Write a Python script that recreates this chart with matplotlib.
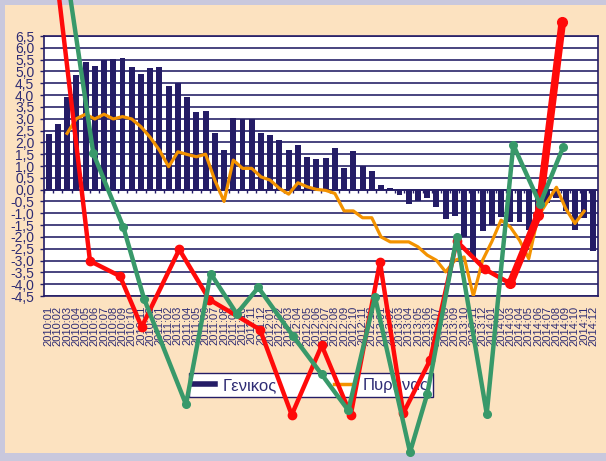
import numpy as np
import matplotlib
matplotlib.use("Agg")
import matplotlib.pyplot as plt
from matplotlib.lines import Line2D
from matplotlib.patches import Rectangle

plt.rcParams['font.family'] = ['Liberation Sans', 'DejaVu Sans']

# ---- data -------------------------------------------------------------
months = [f"{y}:{m:02d}" for y in range(2010, 2015) for m in range(1, 13)]

general = [2.35, 2.78, 3.90, 4.85, 5.40, 5.23, 5.47, 5.53, 5.57, 5.19,
           4.89, 5.15, 5.19, 4.38, 4.53, 3.93, 3.28, 3.34, 2.39, 1.67,
           3.03, 2.99, 2.97, 2.39, 2.31, 2.10, 1.67, 1.88, 1.38, 1.29,
           1.33, 1.75, 0.91, 1.63, 0.99, 0.78, 0.19, 0.07, -0.23, -0.59,
           -0.47, -0.37, -0.73, -1.26, -1.12, -2.00, -2.85, -1.74, -1.50, -1.15,
           -1.36, -1.36, -1.70, -1.00, -0.58, -0.37, -0.90, -1.69, -1.22, -2.61]

nan = np.nan
core = [nan, nan, 2.38, 3.00, 3.19, 2.99, 3.19, 2.99, 3.09, 2.99,
        2.66, 2.21, 1.67, 0.97, 1.60, 1.49, 1.39, 1.50, 0.40, -0.50,
        1.25, 0.90, 0.90, 0.54, 0.40, 0.05, -0.19, 0.29, 0.12, 0.01,
        -0.03, -0.16, -0.90, -0.90, -1.19, -1.19, -2.00, -2.21, -2.21, -2.21,
        -2.42, -2.77, -2.99, -3.48, -2.99, -2.85, -4.50, -2.99, -2.20, -1.29,
        -1.58, -2.14, -2.92, -1.15, -0.52, 0.10, -0.80, -1.43, -0.91, nan]

# hand-drawn overlay traces (month position, value)
red_x = [0.99, 4.48, 7.73, 10.08, 14.15, 17.40, 22.89, 26.33, 29.58, 32.72,
         35.89, 38.41, 41.31, 44.20, 47.26, 50.00, 53.04, 55.64]
red_y = [8.60, -3.02, -3.66, -5.81, -2.53, -4.65, -5.92, -9.53, -6.59, -9.53,
         -3.06, -9.46, -7.22, -2.18, -3.37, -3.97, -1.08, 7.11]

green_x = [2.17, 4.84, 8.09, 10.33, 14.88, 17.55, 20.37, 22.71, 26.50, 29.58,
           32.46, 35.35, 39.14, 41.01, 44.20, 47.45, 50.33, 53.22, 55.74]
green_y = [8.60, 1.53, -1.58, -4.61, -9.09, -3.55, -5.25, -4.14, -6.21, -7.82,
           -9.34, -4.54, -11.11, -8.64, -2.01, -9.48, 1.89, -0.61, 1.81]

series_labels = ["Γενικος", "Πυρήνας"]
y_ticks = [-4.5, -4.0, -3.5, -3.0, -2.5, -2.0, -1.5, -1.0, -0.5, 0.0,
           0.5, 1.0, 1.5, 2.0, 2.5, 3.0, 3.5, 4.0, 4.5, 5.0, 5.5, 6.0, 6.5]

# ---- style ------------------------------------------------------------
NAVY = '#241C66'
TXT = '#2E2C74'
GRID = '#47437F'
ORANGE = '#F39200'
RED = '#FF0A0A'
GREEN = '#38996A'
PEACH = '#FCE2C0'
LAVENDER = '#C9C8DD'

W, H = 606, 461
fig = plt.figure(figsize=(W / 100, H / 100), dpi=100, facecolor=PEACH)

# lavender frame strips (top, left, bottom)
for (x0, y0, w, h) in [(0, H - 5, W, 5), (0, 0, 5, H), (0, 0, W, 8)]:
    fig.patches.append(Rectangle((x0 / W, y0 / H), w / W, h / H,
                                 transform=fig.transFigure, facecolor=LAVENDER,
                                 edgecolor='none', zorder=-1))

ax = fig.add_axes([44 / W, 1 - 296 / H, (598 - 44) / W, (296 - 36) / H])
ax.set_facecolor('white')

x = np.arange(len(months))
ax.set_xlim(-0.5, len(months) - 0.5)
ax.set_ylim(-4.5, 6.5)

# horizontal gridlines
for v in y_ticks:
    ax.axhline(v, color=GRID, lw=1.4, zorder=1)

ax.bar(x, general, width=0.64, color=NAVY, zorder=3)
ax.plot(x, core, color=ORANGE, lw=2.3, zorder=4)

# category axis at zero with tick marks between categories
ax.axhline(0, color=NAVY, lw=1.2, zorder=3.5)
ax.vlines(np.arange(len(months) + 1) - 0.5, -0.15, 0, color=NAVY, lw=1.0, zorder=3.5)

# overlay traces, drawn freely over the whole figure
ax.plot(red_x[:16], red_y[:16], color=RED, lw=3.2, zorder=10, clip_on=False,
        solid_capstyle='round', solid_joinstyle='round',
        marker='o', ms=6, markevery=list(range(1, 16)))
ax.plot(red_x[15:], red_y[15:], color=RED, lw=5.5, zorder=10, clip_on=False,
        solid_capstyle='round', solid_joinstyle='round', marker='o', ms=7)
ax.plot(green_x, green_y, color=GREEN, lw=3.2, zorder=11, clip_on=False,
        solid_capstyle='round', solid_joinstyle='round',
        marker='o', ms=5.5, markevery=list(range(1, len(green_x))))

# axes frame and ticks
for s in ax.spines.values():
    s.set_color(NAVY)
    s.set_linewidth(1.2)

ax.set_yticks(y_ticks)
ax.set_yticklabels([f"{v:.1f}".replace('.', ',') for v in y_ticks])
ax.tick_params(axis='y', direction='out', length=3, width=1, color=NAVY,
               labelcolor=TXT, labelsize=10, pad=4)

ax.set_xticks(x)
ax.set_xticklabels(months, rotation=90, va='top', ha='center')
ax.tick_params(axis='x', length=0, labelcolor=TXT, labelsize=8, pad=7)

handles = [Line2D([], [], color=NAVY, lw=4),
           Line2D([], [], color=ORANGE, lw=2.5)]
leg = ax.legend(handles, series_labels, ncol=2, loc='center', mode='expand',
                bbox_to_anchor=(189 / W, 1 - 399 / H, 244 / W, 28 / H),
                bbox_transform=fig.transFigure,
                fontsize=12, frameon=True, fancybox=False, framealpha=1,
                edgecolor=NAVY, handlelength=1.3, handletextpad=0.45,
                columnspacing=1.8, borderpad=0.25, borderaxespad=0)
leg.get_frame().set_linewidth(1.0)
leg.set_zorder(5)
for t in leg.get_texts():
    t.set_color(TXT)

fig.savefig('out.png', dpi=100, facecolor=fig.get_facecolor())
